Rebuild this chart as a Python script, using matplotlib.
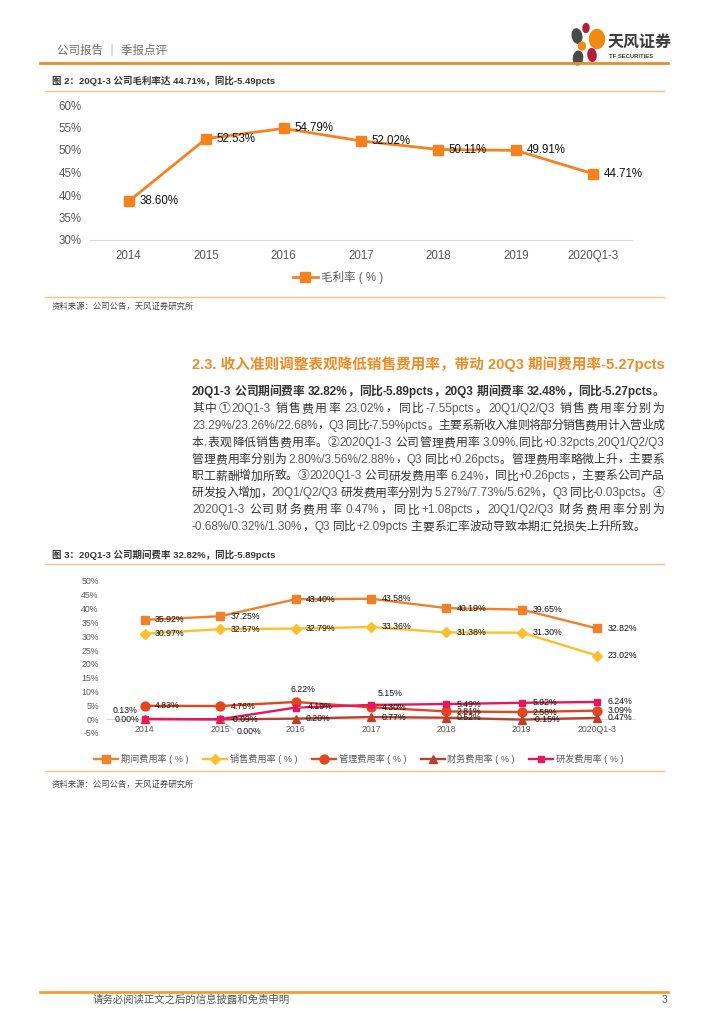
import matplotlib
matplotlib.use("Agg")
import matplotlib.pyplot as plt
from matplotlib.patches import Ellipse
from matplotlib.lines import Line2D

# ---------------- data ----------------
years = ["2014", "2015", "2016", "2017", "2018", "2019", "2020Q1-3"]
gross_margin = [38.60, 52.53, 54.79, 52.02, 50.11, 49.91, 44.71]

period_rate = [35.92, 37.25, 43.40, 43.58, 40.19, 39.65, 32.82]
sales_rate = [30.97, 32.57, 32.79, 33.36, 31.38, 31.30, 23.02]
admin_rate = [4.83, 4.76, 6.22, 4.30, 2.81, 2.58, 3.09]
fin_rate = [0.13, -0.09, 0.20, 0.77, 0.52, -0.15, 0.47]
rd_rate = [0.00, 0.00, 4.19, 5.15, 5.49, 5.92, 6.24]

series_names = ["期间费用率 ( % )", "销售费用率 ( % )", "管理费用率 ( % )", "财务费用率 ( % )", "研发费用率 ( % )"]

W, H = 724, 1024
FONT = ["Liberation Sans", "Noto Sans CJK SC", "DejaVu Sans"]
plt.rcParams["font.family"] = FONT

fig = plt.figure(figsize=(W / 100, H / 100), dpi=100)
renderer = fig.canvas.get_renderer()


def fx(x):
    return x / W


def fy(y):
    return 1 - y / H


def hline(x0, x1, y, color, lw):
    fig.add_artist(Line2D([fx(x0), fx(x1)], [fy(y), fy(y)], color=color, lw=lw,
                          transform=fig.transFigure))


def axes_px(x0, y0, x1, y1):
    return fig.add_axes([fx(x0), fy(y1), fx(x1 - x0), (y1 - y0) / H])


# ---------------- header ----------------
fig.text(fx(57), fy(50), "公司报告 ｜ 季报点评", fontsize=8.3, color="#6b6b6b",
         va="center", ha="left")
hline(40, 668, 63, "#F08A24", 2.0)
logo = [((577, 36), 9, 15, 35, "#4a4a4a"),
        ((586, 28), 6, 9, -20, "#B0203A"),
        ((597, 39), 15, 19, 0, "#F08A10"),
        ((582, 46), 7, 8, 0, "#F08A10"),
        ((592, 55), 8, 13, 25, "#B0203A"),
        ((578, 58), 9, 14, -30, "#4a4a4a")]
for (cx, cy), w, h, ang, col in logo:
    fig.add_artist(Ellipse((fx(cx), fy(cy)), w / W, h / H, angle=ang, color=col,
                           transform=fig.transFigure))
fig.text(fx(608), fy(42), "天风证券", fontsize=11.5, fontweight="bold", color="#3a3a3a",
         va="center", ha="left")
fig.text(fx(609), fy(56), "TF SECURITIES", fontsize=4.2, fontweight="bold", color="#3a3a3a",
         va="center", ha="left")

# ---------------- figure 2 ----------------
fig.text(fx(52), fy(81), "图 2：20Q1-3 公司毛利率达 44.71%，同比-5.49pcts", fontsize=6.8,
         color="#333333", va="center", ha="left", fontweight="bold")
hline(45, 664, 91, "#F9C08C", 1.0)

ax1 = axes_px(90, 105, 632, 240)
x = list(range(len(years)))
ax1.plot(x, gross_margin, color="#F5821F", lw=2.0, marker="s", markersize=6.8,
         label="毛利率 ( % )")
for xi, v in zip(x, gross_margin):
    ax1.annotate(f"{v:.2f}%", (xi, v), xytext=(7.5, 0), textcoords="offset points",
                 va="center", ha="left", fontsize=8.3, color="#111111")
ax1.set_xlim(-0.5, 6.5)
ax1.set_ylim(30, 60)
ax1.set_yticks([30, 35, 40, 45, 50, 55, 60])
ax1.set_yticklabels([f"{t}%" for t in [30, 35, 40, 45, 50, 55, 60]])
ax1.set_xticks(x)
ax1.set_xticklabels(years)
for s in ["top", "right", "left"]:
    ax1.spines[s].set_visible(False)
ax1.spines["bottom"].set_color("#d9d9d9")
ax1.tick_params(axis="both", length=0, labelsize=8.3, labelcolor="#595959")
ax1.tick_params(axis="x", pad=7)
ax1.tick_params(axis="y", pad=6)
ax1.patch.set_alpha(0)
leg1 = ax1.legend(loc="center", bbox_to_anchor=(fx(338), fy(278)),
                  bbox_transform=fig.transFigure, frameon=False, fontsize=8.3,
                  handlelength=2.2, handletextpad=0.3)
for t in leg1.get_texts():
    t.set_color("#595959")

hline(45, 664, 297, "#F9C08C", 1.0)
fig.text(fx(52), fy(307), "资料来源：公司公告，天风证券研究所", fontsize=6.0, color="#444444",
         va="center", ha="left")

# ---------------- section text ----------------
fig.text(fx(192), fy(364), "2.3. 收入准则调整表观降低销售费用率，带动 20Q3 期间费用率-5.27pcts",
         fontsize=10.5, fontweight="bold", color="#F08A24", va="center", ha="left")

body_lines = [
    "20Q1-3 公司期间费率 32.82%，同比-5.89pcts，20Q3 期间费率 32.48%，同比-5.27pcts。",
    "其中①20Q1-3 销售费用率 23.02%，同比-7.55pcts。20Q1/Q2/Q3 销售费用率分别为",
    "23.29%/23.26%/22.68%，Q3 同比-7.59%pcts。主要系新收入准则将部分销售费用计入营业成",
    "本,表观降低销售费用率。②2020Q1-3 公司管理费用率 3.09%,同比+0.32pcts,20Q1/Q2/Q3",
    "管理费用率分别为 2.80%/3.56%/2.88%，Q3 同比+0.26pcts。管理费用率略微上升，主要系",
    "职工薪酬增加所致。③2020Q1-3 公司研发费用率 6.24%，同比+0.26pcts，主要系公司产品",
    "研发投入增加，20Q1/Q2/Q3 研发费用率分别为 5.27%/7.73%/5.62%，Q3 同比-0.03pcts。④",
    "2020Q1-3 公司财务费用率 0.47%，同比+1.08pcts，20Q1/Q2/Q3 财务费用率分别为",
    "-0.68%/0.32%/1.30%，Q3 同比+2.09pcts 主要系汇率波动导致本期汇兑损失上升所致。",
]


def tokenize(s):
    toks = []  # (text, space_before, is_ascii)
    word = ""
    space = False
    for ch in s:
        if ch == " ":
            if word:
                toks.append((word, space, True))
                word = ""
                space = False
            space = True
        elif ord(ch) < 128:
            word += ch
        else:
            if word:
                toks.append((word, space, True))
                word = ""
                space = False
            toks.append((ch, space, False))
            space = False
    if word:
        toks.append((word, space, True))
    return toks


def justified(s, x0, x1, yc, justify=True, cjk_color="#333333", ascii_color="#5a5a5a", **kw):
    toks = tokenize(s)
    arts = []
    widths = []
    for t, _, asc in toks:
        a = fig.text(0, 0, t, va="center", ha="left",
                     color=(ascii_color if asc else cjk_color), **kw)
        widths.append(a.get_window_extent(renderer).width)
        arts.append(a)
    sp = 3.0
    base = sum(widths) + sum(sp for t, s_, _ in toks[1:] if s_)
    ngaps = len(toks) - 1
    extra = (x1 - x0 - base) / ngaps if (justify and ngaps > 0) else 0.0
    cur = x0
    for i, (a, (t, s_, _)) in enumerate(zip(arts, toks)):
        if i > 0:
            cur += extra + (sp if s_ else 0)
        a.set_position((fx(cur), fy(yc)))
        cur += widths[i]


for i, ln in enumerate(body_lines):
    yy = 392 + 16.9 * i
    if i == 0:
        justified(ln, 192, 664, yy, justify=True, cjk_color="#333333",
                  ascii_color="#333333", fontsize=8.5, fontweight="bold")
    else:
        justified(ln, 192, 664, yy, justify=(i < len(body_lines) - 1),
                  fontsize=8.5)

# ---------------- figure 3 ----------------
fig.text(fx(52), fy(555), "图 3：20Q1-3 公司期间费率 32.82%，同比-5.89pcts", fontsize=6.8,
         color="#333333", va="center", ha="left", fontweight="bold")
hline(45, 664, 564, "#F9C08C", 1.0)

ax2 = axes_px(107, 581, 635, 733)
styles = [
    (period_rate, "#F0802A", "s", 5.8),
    (sales_rate, "#FDBF2D", "D", 5.0),
    (admin_rate, "#E2461F", "o", 6.4),
    (fin_rate, "#B9402C", "^", 6.0),
    (rd_rate, "#E8175D", "s", 3.8),
]
for (vals, col, mk, ms), name in zip(styles, series_names):
    ax2.plot(x, vals, color=col, lw=1.7, marker=mk, markersize=ms, label=name)

# label offsets in points (dx, dy, ha)
R = (7.5, 0, "left")
label_pos = [
    [R] * 7,
    [R] * 7,
    [R, R, (5, 9, "center"), R, R, R, R],
    [(-14, 6, "center"), R, R, R, R, R, R],
    [(-4, 0, "right"), (12, -9, "left"), (9, 1, "left"), (14, 8, "center"), R, R, R],
]
for (vals, col, mk, ms), offs in zip(styles, label_pos):
    for xi, v, (dx, dy, ha) in zip(x, vals, offs):
        ax2.annotate(f"{v:.2f}%", (xi, v), xytext=(dx, dy), textcoords="offset points",
                     va="center", ha=ha, fontsize=6.3, color="#111111")
# leader lines
ax2.annotate("", (1, 0), xytext=(11, -9), textcoords="offset points",
             arrowprops=dict(arrowstyle="-", color="#a6a6a6", lw=0.6))
ax2.annotate("", (2, 4.19), xytext=(8.5, 1), textcoords="offset points",
             arrowprops=dict(arrowstyle="-", color="#a6a6a6", lw=0.6))

ax2.set_xlim(-0.5, 6.5)
ax2.set_ylim(-5, 50)
yt = list(range(-5, 55, 5))
ax2.set_yticks(yt)
ax2.set_yticklabels([f"{t}%" for t in yt])
ax2.set_xticks(x)
ax2.set_xticklabels(years)
for s in ["top", "right", "left"]:
    ax2.spines[s].set_visible(False)
ax2.spines["bottom"].set_position(("data", 0))
ax2.spines["bottom"].set_color("#d9d9d9")
ax2.spines["bottom"].set_zorder(0)
ax2.tick_params(axis="both", length=0, labelsize=6.3, labelcolor="#595959")
ax2.tick_params(axis="x", pad=4)
ax2.tick_params(axis="y", pad=6)
ax2.patch.set_alpha(0)
leg2 = ax2.legend(loc="center", bbox_to_anchor=(fx(359), fy(759)),
                  bbox_transform=fig.transFigure, frameon=False, fontsize=6.6, ncol=5,
                  handlelength=2.6, handletextpad=0.3, columnspacing=1.6)
for t in leg2.get_texts():
    t.set_color("#595959")

hline(45, 664, 771, "#F9C08C", 1.0)
fig.text(fx(52), fy(785), "资料来源：公司公告，天风证券研究所", fontsize=6.0, color="#444444",
         va="center", ha="left")

# ---------------- footer ----------------
hline(40, 668, 992, "#F0A030", 2.0)
fig.text(fx(93), fy(1000), "请务必阅读正文之后的信息披露和免责申明", fontsize=7.5, color="#555555",
         va="center", ha="left")
fig.text(fx(667), fy(1000), "3", fontsize=7.5, color="#555555", va="center", ha="right")

fig.savefig("out.png", dpi=100)
